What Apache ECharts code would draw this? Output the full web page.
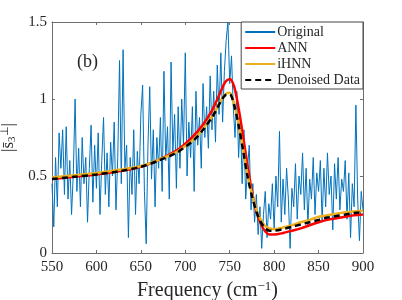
<!DOCTYPE html>
<html>
<head>
<meta charset="utf-8">
<script src="https://cdn.jsdelivr.net/npm/echarts@6/dist/echarts.min.js"></script>
<style>html,body{margin:0;padding:0;background:#fff}#c{width:402px;height:300px}</style>
</head>
<body>
<div id="c"></div>
<script>
// Original noisy spectrum, sampled every 2 cm^-1 from 550 to 900
const origStart = 550;
const origStep = 2;
const originalValues = [
  0.45,0.17,0.62,0.30,0.78,0.55,0.80,0.38,0.82,0.35,0.60,0.25,0.52,1.00,0.40,0.68,0.30,0.75,0.45,0.62,0.20,0.55,0.83,0.33,0.70,0.42,
  0.78,0.25,0.60,0.88,0.38,0.65,0.30,0.72,0.50,0.85,0.28,0.62,1.25,0.45,1.32,0.55,0.70,0.10,0.62,0.38,0.80,0.25,0.66,0.45,0.90,
  1.09,0.40,0.06,0.70,1.08,0.48,0.80,0.30,0.75,0.55,0.88,0.40,1.18,0.60,0.82,0.35,1.24,0.65,0.90,0.42,0.95,0.55,1.00,0.70,1.30,
  0.50,0.85,0.62,0.95,0.40,1.05,0.70,0.88,0.55,1.10,0.75,0.95,0.68,1.15,0.80,1.05,0.72,1.22,0.90,1.30,0.85,1.18,1.38,1.50,1.10,
  1.28,0.95,0.75,1.05,0.62,0.88,0.45,0.80,0.35,0.55,0.70,0.28,0.45,0.20,0.38,0.12,0.30,0.03,0.25,0.40,0.10,0.32,0.22,0.45,0.15,
  0.50,0.30,0.79,0.20,0.48,0.25,0.55,0.35,0.03,0.42,0.30,0.58,0.22,0.50,0.38,0.65,0.28,0.55,0.18,0.48,0.35,0.62,0.25,0.52,0.40,
  0.60,0.20,0.55,0.30,0.65,0.38,0.50,0.15,0.58,0.35,0.62,0.28,0.48,0.40,0.60,0.22,0.52,0.10,0.45,0.30,0.96,0.35,0.08,0.40,0.28
];
// Smooth model curves
const smoothFreq =     [550,575,600,625,650,670,690,700,710,720,730,735,740,745,750,755,760,765,770,775,780,785,790,795,800,810,820,830,840,850,860,870,880,890,900];
const annValues =      [0.48,0.495,0.51,0.53,0.56,0.605,0.665,0.71,0.765,0.835,0.925,0.985,1.05,1.11,1.13,1.08,0.94,0.76,0.57,0.40,0.27,0.19,0.14,0.12,0.12,0.13,0.145,0.16,0.18,0.20,0.215,0.225,0.235,0.245,0.25];
const ihnnValues =     [0.49,0.505,0.52,0.54,0.565,0.605,0.655,0.695,0.74,0.805,0.885,0.935,0.99,1.03,1.04,0.97,0.84,0.68,0.51,0.385,0.285,0.215,0.175,0.16,0.155,0.165,0.18,0.20,0.215,0.235,0.245,0.255,0.265,0.27,0.275];
const denoisedValues = [0.48,0.495,0.51,0.53,0.56,0.60,0.65,0.69,0.735,0.80,0.88,0.93,0.985,1.025,1.03,0.96,0.83,0.67,0.50,0.37,0.27,0.20,0.16,0.145,0.145,0.155,0.17,0.185,0.20,0.215,0.23,0.24,0.25,0.26,0.265];
const seriesNames = ['Original','ANN','iHNN','Denoised Data'];
const xTicks = {min: 550, max: 900, interval: 50};
const yTicks = {min: 0, max: 1.5, interval: 0.5};

const origData = originalValues.map((v, i) => [origStart + i * origStep, v]);
const pair = arr => arr.map((v, i) => [smoothFreq[i], v]);

const FONT = '"Liberation Serif","Times New Roman",serif';
const axisCol = '#6e6e6e';
const txtCol = '#262626';

const chart = echarts.init(document.getElementById('c'), null, {renderer: 'canvas'});
const xCommon = {
  type: 'value', min: xTicks.min, max: xTicks.max, interval: xTicks.interval,
  axisLine: {show: true, onZero: false, lineStyle: {color: axisCol, width: 1}},
  axisTick: {show: true, inside: true, length: 3, lineStyle: {color: axisCol}},
  splitLine: {show: false}
};
const yCommon = {
  type: 'value', min: yTicks.min, max: yTicks.max, interval: yTicks.interval,
  axisLine: {show: true, onZero: false, lineStyle: {color: axisCol, width: 1}},
  axisTick: {show: true, inside: true, length: 3, lineStyle: {color: axisCol}},
  splitLine: {show: false}
};
chart.setOption({
  animation: false,
  backgroundColor: '#fff',
  grid: {left: 52, right: 39, top: 22, bottom: 47, containLabel: false, outerBoundsMode: 'none'},
  xAxis: [
    Object.assign({}, xCommon, {
      position: 'bottom',
      name: 'Frequency (cm{sup|−1})', nameLocation: 'middle', nameGap: 24,
      nameTextStyle: {fontFamily: FONT, fontSize: 20, color: txtCol,
        rich: {sup: {fontFamily: FONT, fontSize: 13, color: txtCol, padding: [0,0,9,0]}}},
      axisLabel: {fontFamily: FONT, fontSize: 15, color: txtCol, margin: 7}
    }),
    Object.assign({}, xCommon, {position: 'top', axisLabel: {show: false}})
  ],
  yAxis: [
    Object.assign({}, yCommon, {
      position: 'left',
      name: '|{s|s̄}{sub|3}{sup|⊥}|', nameLocation: 'middle', nameGap: 30,
      nameTextStyle: {fontFamily: FONT, fontSize: 17, color: txtCol,
        rich: {
          s: {fontFamily: FONT, fontSize: 17, color: txtCol},
          sub: {fontFamily: FONT, fontSize: 11, color: txtCol, padding: [7,0,0,0]},
          sup: {fontFamily: FONT, fontSize: 11, color: txtCol, padding: [0,0,7,0]}
        }},
      axisLabel: {fontFamily: FONT, fontSize: 15, color: txtCol, margin: 5}
    }),
    Object.assign({}, yCommon, {position: 'right', axisLabel: {show: false}})
  ],
  legend: {
    orient: 'vertical', right: 39, top: 22,
    backgroundColor: '#fff', borderColor: '#444', borderWidth: 1, borderRadius: 0,
    padding: [3, 3, 2, 3], itemGap: 2, itemWidth: 30, itemHeight: 14,
    itemStyle: {opacity: 0},
    textStyle: {fontFamily: FONT, fontSize: 14, color: txtCol, padding: [0,0,0,-3]},
    data: seriesNames
  },
  graphic: [{
    type: 'text', left: 77, top: 53,
    style: {text: '(b)', font: '18px ' + FONT, fill: txtCol}
  }],
  series: [
    {name: seriesNames[0], type: 'line', data: origData, showSymbol: false, symbol: 'none',
     lineStyle: {color: '#0072BD', width: 1}, itemStyle: {color: '#0072BD'}, z: 1},
    {name: seriesNames[1], type: 'line', data: pair(annValues), showSymbol: false, symbol: 'none', smooth: 0.3,
     lineStyle: {color: '#FF0000', width: 2.5}, itemStyle: {color: '#FF0000'}, z: 2},
    {name: seriesNames[2], type: 'line', data: pair(ihnnValues), showSymbol: false, symbol: 'none', smooth: 0.3,
     lineStyle: {color: '#EDB120', width: 2.5}, itemStyle: {color: '#EDB120'}, z: 3},
    {name: seriesNames[3], type: 'line', data: pair(denoisedValues), showSymbol: false, symbol: 'none', smooth: 0.3,
     lineStyle: {color: '#000000', width: 2.5, type: [6, 4]}, itemStyle: {color: '#000000'}, z: 4}
  ]
});
</script>
</body>
</html>
